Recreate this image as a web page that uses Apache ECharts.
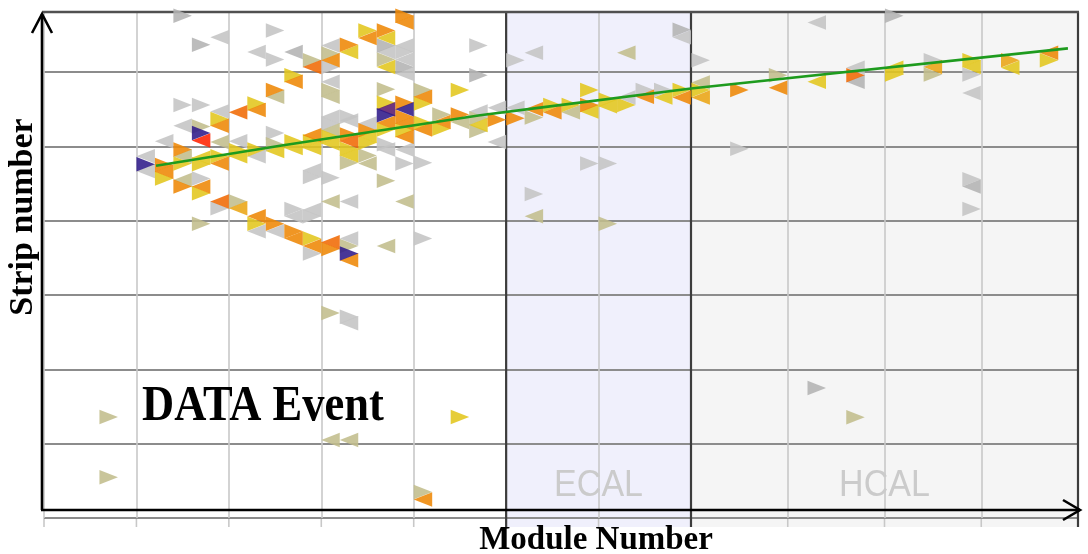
<!DOCTYPE html>
<html><head><meta charset="utf-8">
<script src="https://cdn.jsdelivr.net/npm/echarts@6/dist/echarts.min.js"></script>
<style>html,body{margin:0;padding:0;background:#fff}#c{width:1088px;height:554px}</style>
</head><body><div id="c"></div>
<script>
// ---- DATA ----
// hits: [module, strip, energyLevel]; tracker+ECAL modules 0..34, HCAL modules 0..9
const innerRight = [
 [7,67.6,1],[8,63.7,1],[12,65.6,0],[12,61.7,0],[14,61.6,2],[13,59.6,3],[12,57.6,5],[11,55.8,3],
 [9,53.7,3],[7,55.6,0],[8,55.6,0],[8,52.7,2],[8,51.8,9],[12,51.8,0],[16,63.7,5],[17,65.6,3],
 [18,65.6,5],[18,63.6,1],[18,61.7,2],[19,67.6,5],[19,62.7,0],[19,60.7,1],[15,62.5,2],[15,60.7,0],
 [15,57.6,2],[18,57.7,2],[20,57.6,2],[20,55.8,3],[22,57.6,3],[23,63.6,0],[23,59.6,1],[25,61.6,0],
 [5,47.6,9],[6,47.5,5],[6,45.7,3],[7,49.6,5],[7,47.7,3],[7,44.6,5],[8,47.6,3],[8,45.7,0],
 [8,43.7,3],[9,48.7,3],[9,41.7,0],[10,49.5,3],[10,42.6,2],[11,49.6,3],[11,39.6,3],[12,50.3,2],
 [12,39.6,5],[13,50.7,3],[13,41.6,0],[13,38.6,5],[14,50.7,3],[14,45.9,0],[14,40.6,0],[14,37.6,3],
 [14,35.6,0],[15,53.1,0],[15,51.3,3],[15,45.8,0],[15,36.2,5],[16,54.0,0],[16,51.6,5],[16,49.7,3],
 [16,47.8,2],[16,36.6,2],[16,35.6,9],[17,52.2,5],[17,50.5,3],[17,48.8,2],[18,55.9,3],[18,54.2,9],
 [18,52.3,3],[18,50.3,0],[18,45.4,2],[19,55.9,5],[19,54.0,5],[19,52.2,3],[19,47.7,0],[20,53.2,3],
 [20,47.8,0],[20,37.6,0],[21,54.3,2],[21,52.4,3],[22,54.3,5],[23,53.8,2],[23,52.1,2],[24,53.6,5],
 [25,53.8,5],[26,53.9,2],[26,43.6,0],[27,55.6,3],[28,55.6,3],[29,57.6,3],[29,55.6,5],[29,47.7,0],
 [30,56.3,3],[30,47.7,0],[30,39.6,2],[31,55.6,3],[32,57.6,0],[33,57.6,0],[34,57.6,3],[34,65.7,1],
 [8,39.6,2],[3,13.6,2],[3,5.5,2],[15,27.6,2],[16,27.1,0],[22,13.6,3],[20,3.5,2]
];
const innerLeft = [
 [9,64.7,0],[11,62.7,0],[13,62.7,1],[14,60.7,6],[13,58.7,5],[12,56.7,2],[11,54.9,5],[10,54.6,6],
 [9,54.7,0],[9,52.8,5],[7,52.8,0],[8,50.8,7],[6,50.7,0],[10,50.7,0],[16,62.7,3],[17,64.6,5],
 [18,64.6,3],[18,62.7,0],[18,60.7,3],[19,66.7,5],[19,63.6,0],[19,61.7,0],[19,59.8,0],[15,63.6,0],
 [15,61.6,5],[15,58.7,0],[15,56.7,2],[20,56.7,5],[26,62.6,0],[31,62.6,2],[34,64.7,0],
 [5,48.7,0],[5,46.7,0],[6,46.6,5],[7,48.7,2],[7,45.5,2],[8,48.5,3],[8,44.6,5],[9,50.6,2],
 [9,47.7,5],[9,42.6,6],[10,48.7,3],[10,41.7,4],[11,48.7,0],[11,40.6,5],[11,38.6,0],[12,49.4,3],
 [12,38.6,0],[13,49.8,3],[13,40.6,0],[13,37.6,5],[14,51.5,5],[14,49.8,3],[14,46.8,0],[14,41.5,0],
 [14,36.6,5],[15,54.0,0],[15,52.2,2],[15,50.4,3],[15,42.6,2],[15,37.1,6],[16,53.5,0],[16,50.7,6],
 [16,48.8,3],[16,42.6,0],[16,37.6,0],[16,34.7,5],[17,53.1,0],[17,51.4,3],[17,47.7,2],[18,55.0,8],
 [18,53.2,5],[18,49.6,0],[18,36.6,2],[19,55.0,9],[19,53.1,5],[19,51.3,5],[19,49.6,0],[19,42.6,2],
 [20,52.3,5],[21,53.3,5],[22,53.3,2],[23,54.7,0],[23,52.9,3],[24,55.2,0],[24,50.6,0],[25,55.2,0],
 [26,55.0,5],[26,40.6,2],[27,54.6,5],[28,54.6,2],[29,54.7,3],[30,55.4,3],[31,56.6,0],[32,56.7,5],
 [33,56.6,3],[34,56.6,5],[15,10.5,2],[16,10.5,2],[16,26.2,0],[20,2.5,5]
];
const hcalRight = [
 [0,61.6,0],[0,57.6,3],[1,57.6,5],[1,49.7,0],[2,59.6,2],[3,17.5,1],[4,59.6,6],[4,13.55,2],
 [5,67.6,1],[5,59.7,3],[6,61.6,0],[6,59.7,2],[7,61.6,3],[7,59.7,0],[7,45.6,0],[7,41.6,0],
 [8,61.6,4],[9,61.6,3]
];
const hcalLeft = [
 [0,58.6,2],[0,56.6,4],[2,57.9,5],[3,66.7,0],[3,58.7,3],[4,60.6,0],[4,58.7,1],[5,60.6,3],
 [6,60.7,4],[7,60.7,3],[7,57.2,0],[7,44.6,1],[8,60.6,3],[9,62.6,5]
];
// track fit (module position, strip)
const fitInner = [[6.06,47.4],[12.77,50.1],[23.59,54.2],[27.05,55.3],[35,57.8]];
const fitHcal = [[0,57.8],[9.74,63.2]];
const detectorLabels = ['ECAL','HCAL'];
const axisTitles = ['Module Number','Strip number'];
const eventTitle = 'DATA Event';

// ---- STYLE ----
const palette = ['#c4c4c4','#b3b3b3','#c2bd8c','#e3c61c','#eaa514','#ee8806','#f06a04','#ff2200','#5c1a6c','#2f1a8a'];

function mergeSorted(r,l,offset){
  const all = r.map(h=>[h,-90]).concat(l.map(h=>[h,90]));
  all.sort((a,b)=>a[0][2]-b[0][2]);
  return all.map(([h,rot])=>({value:[h[0]+offset,h[1]],symbolRotate:rot,itemStyle:{color:palette[h[2]]}}));
}
const innerData = mergeSorted(innerRight, innerLeft, 0.5);
const hcalData = mergeSorted(hcalRight, hcalLeft, 0.25);

const chart = echarts.init(document.getElementById('c'), null, {renderer:'canvas'});
const vSplit = {show:true, lineStyle:{color:'#c8c8c8', width:1.6}};
const hSplit = {show:true, lineStyle:{color:'#8c8c8c', width:2}};
const hidden = {axisLine:{show:false}, axisTick:{show:false}, axisLabel:{show:false}};
const option = {
  animation:false,
  backgroundColor:'#ffffff',
  grid:[
    {left:44, top:12, width:647, height:506},
    {left:691, top:12, width:387, height:506}
  ],
  xAxis:[
    Object.assign({type:'value', gridIndex:0, min:0, max:35, interval:5, splitLine:vSplit}, hidden),
    Object.assign({type:'value', gridIndex:1, min:0, max:10, interval:2.5, splitLine:vSplit}, hidden)
  ],
  yAxis:[
    Object.assign({type:'value', gridIndex:0, min:0, max:68.1, interval:10, splitLine:hSplit}, hidden),
    Object.assign({type:'value', gridIndex:1, min:0, max:68.1, interval:10, splitLine:hSplit}, hidden)
  ],
  series:[
    {type:'scatter', xAxisIndex:0, yAxisIndex:0, symbol:'triangle', symbolSize:[14.5,18.5],
     data:innerData, itemStyle:{opacity:0.88}, z:3, silent:true},
    {type:'scatter', xAxisIndex:1, yAxisIndex:1, symbol:'triangle', symbolSize:[14.5,18.5],
     data:hcalData, itemStyle:{opacity:0.88}, z:3, silent:true},
    {type:'line', xAxisIndex:0, yAxisIndex:0, data:fitInner, showSymbol:false, symbol:'none',
     lineStyle:{color:'#1e9b1e', width:2.6}, z:5, silent:true},
    {type:'line', xAxisIndex:1, yAxisIndex:1, data:fitHcal, showSymbol:false, symbol:'none',
     lineStyle:{color:'#1e9b1e', width:2.6}, z:5, silent:true}
  ]
};
chart.setOption(option);

// decorations derived from axis positions
const px0 = v=>chart.convertToPixel({xAxisIndex:0}, v);
const px1 = v=>chart.convertToPixel({xAxisIndex:1}, v);
const py = s=>chart.convertToPixel({yAxisIndex:0}, s);
const yTop = py(68.1), yBot = py(0), yExt = yBot + 9;
const xE0 = px0(25), xE1 = px0(35), xR = px1(10);
const els = [];
els.push({type:'rect', z:-10, silent:true, shape:{x:xE0, y:yTop, width:xE1-xE0, height:yExt-yTop}, style:{fill:'#f0f0fc'}});
els.push({type:'rect', z:-10, silent:true, shape:{x:xE1, y:yTop, width:xR-xE1, height:yExt-yTop}, style:{fill:'#f5f5f5'}});
const light = [];
for (let v=0; v<=35; v+=5) if (v!==25 && v!==35) light.push(px0(v));
for (let v=2.5; v<10; v+=2.5) light.push(px1(v));
light.forEach(x=>els.push({type:'line', z:-5, silent:true, shape:{x1:x,y1:yBot,x2:x,y2:yExt}, style:{stroke:'#c8c8c8', lineWidth:1.6}}));
[xE0, xE1, xR].forEach(x=>els.push({type:'line', z:1, silent:true, shape:{x1:x,y1:yTop,x2:x,y2:yExt}, style:{stroke:'#3c3c3c', lineWidth:2.2}}));
els.push({type:'line', z:1, silent:true, shape:{x1:42,y1:yTop,x2:xR+1,y2:yTop}, style:{stroke:'#505050', lineWidth:2.4}});
// axes with open arrows
const axY = 510;
els.push({type:'line', z:6, silent:true, shape:{x1:42,y1:axY,x2:42,y2:14}, style:{stroke:'#000', lineWidth:2.6}});
els.push({type:'polyline', z:6, silent:true, shape:{points:[[32,33],[42,14],[52,33]]}, style:{stroke:'#000', lineWidth:2.6, fill:null}});
els.push({type:'line', z:6, silent:true, shape:{x1:41,y1:axY,x2:1080,y2:axY}, style:{stroke:'#000', lineWidth:2.6}});
els.push({type:'polyline', z:6, silent:true, shape:{points:[[1063,500],[1080,axY],[1063,520]]}, style:{stroke:'#000', lineWidth:2.6, fill:null}});
// texts
els.push({type:'text', z:7, silent:true, x:(xE0+xE1)/2, y:486, scaleX:0.92,
  style:{text:detectorLabels[0], font:'37px "Liberation Sans", Arial, sans-serif', fill:'#cbcbcb', align:'center', verticalAlign:'middle'}});
els.push({type:'text', z:7, silent:true, x:(xE1+xR)/2, y:486, scaleX:0.92,
  style:{text:detectorLabels[1], font:'37px "Liberation Sans", Arial, sans-serif', fill:'#cbcbcb', align:'center', verticalAlign:'middle'}});
els.push({type:'text', z:7, silent:true, x:142, y:407, scaleX:0.89,
  style:{text:eventTitle, font:'bold 50px "Liberation Serif", serif', fill:'#000', align:'left', verticalAlign:'middle'}});
els.push({type:'text', z:7, silent:true, x:596, y:540,
  style:{text:axisTitles[0], font:'bold 33px "Liberation Serif", serif', fill:'#000', align:'center', verticalAlign:'middle'}});
els.push({type:'text', z:7, silent:true, x:23.5, y:217, rotation:Math.PI/2,
  style:{text:axisTitles[1], font:'bold 34px "Liberation Serif", serif', fill:'#000', align:'center', verticalAlign:'middle'}});
chart.setOption({graphic:{elements:els}});
</script>
</body></html>
